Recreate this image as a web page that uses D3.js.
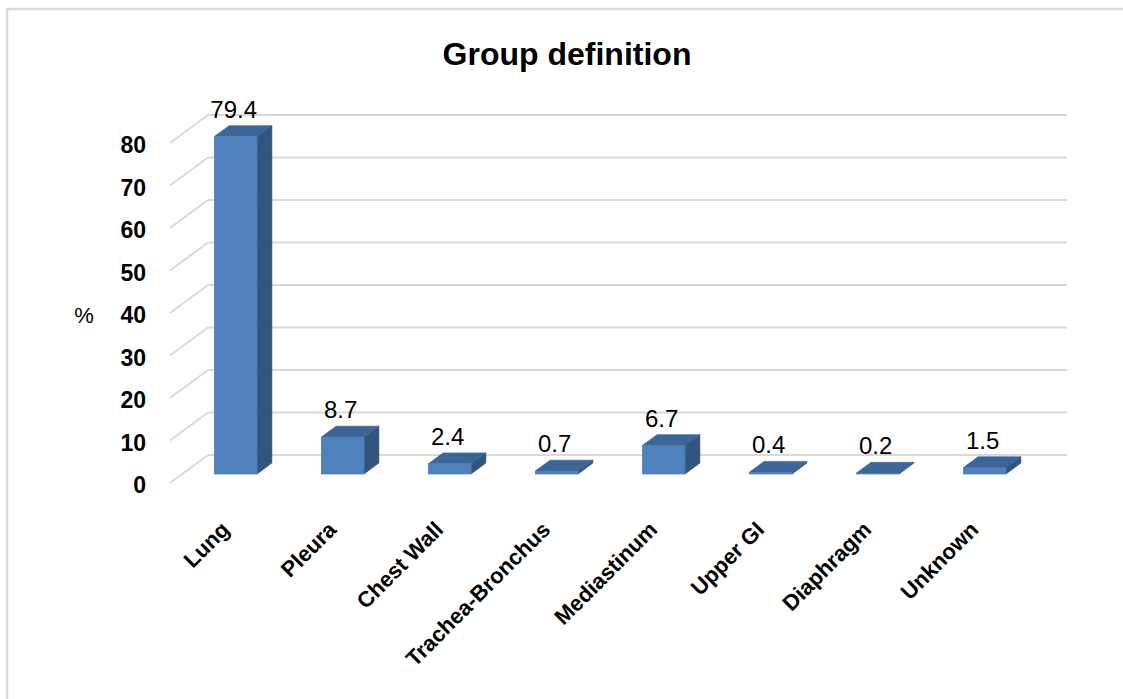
<!DOCTYPE html>
<html>
<head>
<meta charset="utf-8">
<script src="https://cdn.jsdelivr.net/npm/d3@7/dist/d3.min.js"></script>
<style>
  html, body { margin: 0; padding: 0; background: #ffffff; }
  svg { display: block; }
  text { font-family: "Liberation Sans", Arial, sans-serif; fill: #000; }
</style>
</head>
<body>
<svg id="chart" width="1123" height="699"></svg>
<script>
// Site distribution (%)
const categories = ["Lung", "Pleura", "Chest Wall", "Trachea-Bronchus", "Mediastinum", "Upper GI", "Diaphragm", "Unknown"];
const values = [79.4, 8.7, 2.4, 0.7, 6.7, 0.4, 0.2, 1.5];
const yTicks = [0, 10, 20, 30, 40, 50, 60, 70, 80];
const titleText = "Group definition";
const yAxisLabel = "%";

const svg = d3.select("#chart");
const W = 1123, H = 699;

// chart frame
svg.append("rect")
  .attr("x", 7).attr("y", 9)
  .attr("width", W + 20).attr("height", H + 20)
  .attr("fill", "#fff")
  .attr("stroke", "#d9d9d9").attr("stroke-width", 2.5);

// back wall plane
const backLeft = 208, backRight = 1064;
const y = d3.scaleLinear().domain([0, 80]).range([455, 115]);
const x = d3.scaleBand().domain(categories).range([backLeft, backRight])
  .paddingInner(0.6).paddingOuter(0.3);

// oblique depth: d = 0 is the front edge of the floor, d = 1 the back wall
const DX = -38, DY = 28;
const off = d => [DX * (1 - d), DY * (1 - d)];
const dFront = 0.32, dBack = 0.71;

// gridlines on the back wall plus the left-wall diagonals
const grid = svg.append("g");
yTicks.forEach(t => {
  const yb = y(t);
  grid.append("line")
    .attr("x1", backLeft).attr("x2", backRight + 3)
    .attr("y1", yb).attr("y2", yb)
    .attr("stroke", "#d9d9d9").attr("stroke-width", 2);
  grid.append("line")
    .attr("x1", backLeft + DX).attr("y1", yb + DY)
    .attr("x2", backLeft).attr("y2", yb)
    .attr("stroke", "#d9d9d9").attr("stroke-width", 2);
});

// y tick labels
svg.append("g").selectAll("text").data(yTicks).join("text")
  .attr("x", 146)
  .attr("y", d => y(d) + DY + 2)
  .attr("text-anchor", "end")
  .attr("dominant-baseline", "central")
  .attr("font-size", 23)
  .attr("font-weight", "bold")
  .text(d => d);

svg.append("text")
  .attr("x", 84).attr("y", 315)
  .attr("text-anchor", "middle")
  .attr("dominant-baseline", "central")
  .attr("font-size", 22)
  .text(yAxisLabel);

// 3D bars
const [fx, fy] = off(dFront);
const [bx, by] = off(dBack);
const bars = svg.append("g");
categories.forEach((c, i) => {
  const v = values[i];
  const x0 = x(c), x1 = x(c) + x.bandwidth();
  const y0 = y(0), y1 = y(v);
  const g = bars.append("g");
  // right side face
  g.append("polygon")
    .attr("points", [
      [x1 + fx, y0 + fy], [x1 + bx, y0 + by], [x1 + bx, y1 + by], [x1 + fx, y1 + fy]
    ].map(p => p.join(",")).join(" "))
    .attr("fill", "#32557f").attr("stroke", "#2c4b72").attr("stroke-width", 0.6);
  // top face
  g.append("polygon")
    .attr("points", [
      [x0 + fx, y1 + fy], [x0 + bx, y1 + by], [x1 + bx, y1 + by], [x1 + fx, y1 + fy]
    ].map(p => p.join(",")).join(" "))
    .attr("fill", "#3c6697").attr("stroke", "#36608f").attr("stroke-width", 0.6);
  // front face
  g.append("rect")
    .attr("x", x0 + fx).attr("y", y1 + fy)
    .attr("width", x.bandwidth()).attr("height", y0 - y1)
    .attr("fill", "#4f81bd").attr("stroke", "#4a7ab4").attr("stroke-width", 0.6);

  // value label
  svg.append("text")
    .attr("x", x0 + fx + x.bandwidth() / 2 - 2)
    .attr("y", y1 + by - 8)
    .attr("text-anchor", "middle")
    .attr("font-size", 24)
    .text(v.toFixed(1));

  // category label, rotated
  const px = x0 + fx + x.bandwidth() / 2 - 5, py = 531;
  svg.append("text")
    .attr("transform", `translate(${px},${py}) rotate(-45)`)
    .attr("text-anchor", "end")
    .attr("font-size", 22)
    .attr("font-weight", "bold")
    .text(c);
});

// title
svg.append("text")
  .attr("x", 567).attr("y", 65)
  .attr("text-anchor", "middle")
  .attr("font-size", 32)
  .attr("font-weight", "bold")
  .text(titleText);
</script>
</body>
</html>
